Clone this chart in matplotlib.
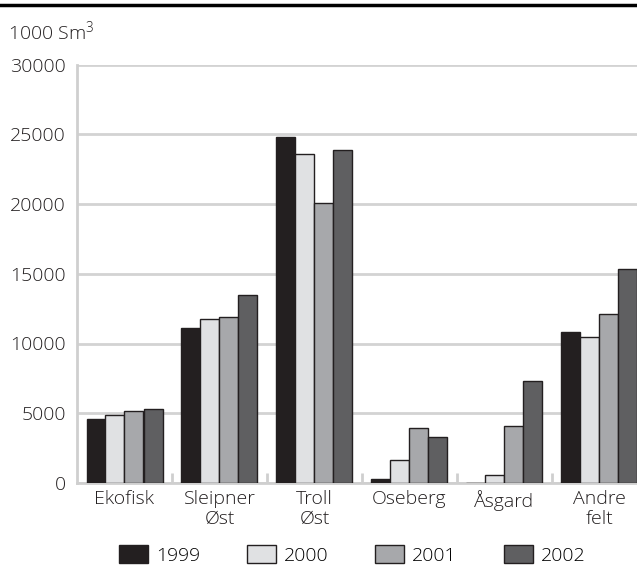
import matplotlib
matplotlib.use("Agg")
import matplotlib.pyplot as plt
from matplotlib.lines import Line2D
import numpy as np

plt.rcParams['font.family'] = ['Open Sans', 'DejaVu Sans']
plt.rcParams['font.weight'] = 'light'
plt.rcParams['mathtext.fontset'] = 'custom'
plt.rcParams['mathtext.rm'] = 'Open Sans:light'

# data (1000 Sm3)
fields = ['Ekofisk', 'Sleipner\nØst', 'Troll\nØst', 'Oseberg', 'Åsgard', 'Andre\nfelt']
years = ['1999', '2000', '2001', '2002']
v1999 = [4560, 11130, 24800, 260, 20, 10850]
v2000 = [4890, 11730, 23550, 1660, 600, 10470]
v2001 = [5180, 11900, 20100, 3920, 4080, 12130]
v2002 = [5320, 13500, 23900, 3330, 7340, 15360]
colors = ['#231f20', '#e0e1e3', '#a7a8ab', '#5f5f61']

series = [v1999, v2000, v2001, v2002]

fig = plt.figure(figsize=(6.37, 5.69), dpi=100)
ax = fig.add_axes([77/637, (569-483)/569, 570/637, (483-64.5)/569])

x = np.arange(len(fields))
w = 0.2
for i, (vals, c, yr) in enumerate(zip(series, colors, years)):
    ax.bar(x + (i - 1.5)*w, vals, w, color=c, edgecolor='#231f20', linewidth=1.0, label=yr, zorder=3)

ax.set_ylim(0, 30000)
ax.set_xlim(-0.5, len(fields) - 0.5)
ax.set_yticks(range(0, 30001, 5000))
ax.set_xticks(x)
ax.set_xticklabels(fields, fontsize=14, linespacing=1.15)
ax.set_xticks(np.arange(0.5, len(fields) - 0.5, 1), minor=True)
ax.tick_params(axis='y', length=0, pad=8, labelsize=14, labelcolor='#231f20')
ax.tick_params(axis='x', which='major', length=0, pad=5, labelcolor='#231f20')
ax.tick_params(axis='x', which='minor', direction='in', length=7, width=2, color='#cfcfcf')
ax.grid(axis='y', color='#d3d3d3', linewidth=2, zorder=0)
ax.set_axisbelow(True)
for s in ['top', 'right']:
    ax.spines[s].set_visible(False)
for s in ['left', 'bottom']:
    ax.spines[s].set_color('#cfcfcf')
    ax.spines[s].set_linewidth(2)

fig.text(8/637, 1 - 40/569, r'1000 Sm$^{\mathrm{3}}$', fontsize=14, color='#231f20')
fig.add_artist(Line2D([0, 1], [1 - 5/569, 1 - 5/569], color='black', linewidth=2.5))

fig.legend(loc='center', bbox_to_anchor=(0.553, 1 - 555/569), ncol=4, frameon=False,
           fontsize=14, handlelength=1.5, handleheight=1.0, handletextpad=0.4,
           columnspacing=2.4)

fig.savefig('out.png', dpi=100)
